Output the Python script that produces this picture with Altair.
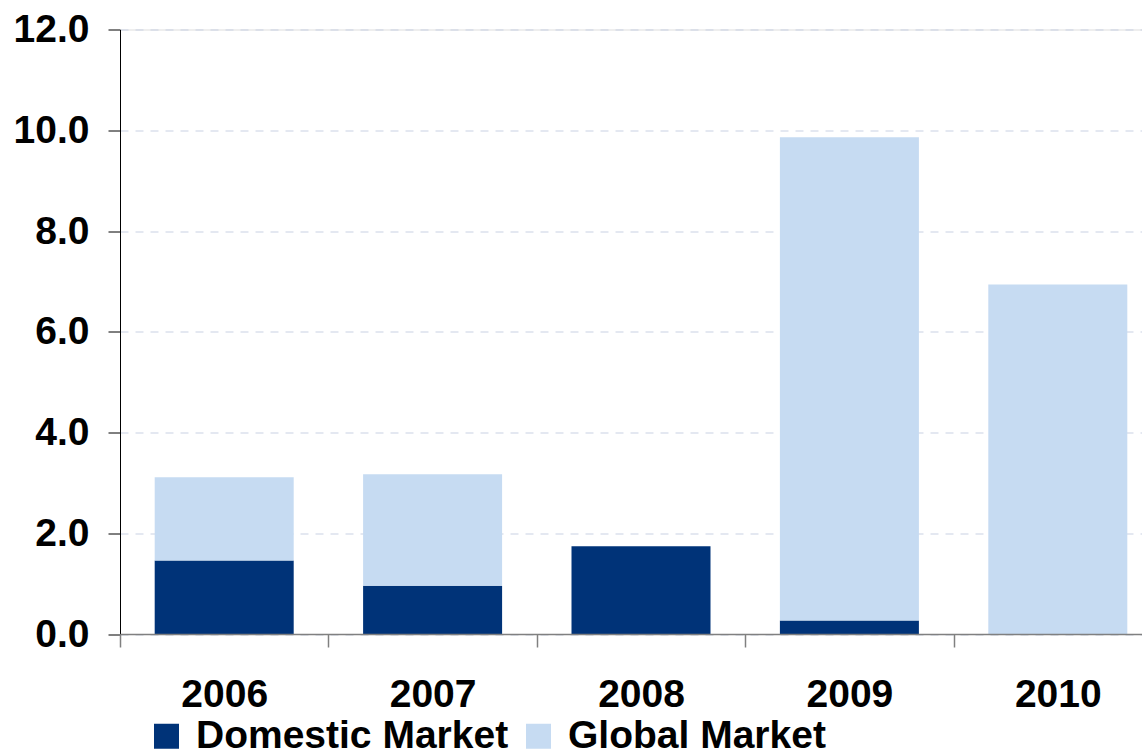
import altair as alt
import pandas as pd

# Annual values by market (stacked: domestic at the bottom, global on top)
years = ["2006", "2007", "2008", "2009", "2010"]
domestic = [1.46, 0.96, 1.74, 0.27, 0.0]
global_market = [1.65, 2.21, 0.0, 9.59, 6.94]
series = ["Domestic Market", "Global Market"]
colors = ["#003378", "#C6DBF2"]
y_ticks = [0, 2, 4, 6, 8, 10, 12]

rows = []
for i, yr in enumerate(years):
    rows.append({"year": yr, "market": series[0], "value": domestic[i], "rank": 0})
    rows.append({"year": yr, "market": series[1], "value": global_market[i], "rank": 1})
df = pd.DataFrame(rows)

FONT = "Liberation Sans"
X_RANGE = 1042
STEP = X_RANGE / len(years)

chart = (
    alt.Chart(df)
    .mark_bar()
    .encode(
        x=alt.X(
            "year:N",
            sort=years,
            scale=alt.Scale(range=[0, X_RANGE], paddingInner=0.333, paddingOuter=0.1665),
            axis=alt.Axis(
                title=None,
                labelAngle=0,
                grid=False,
                # ticks sit on the boundaries between categories
                tickOffset=-STEP / 2,
                labelOffset=STEP / 2,
                domainColor="#808080",
                domainWidth=1.5,
                tickColor="#808080",
                tickWidth=1.5,
                tickSize=13,
                labelPadding=28,
                labelFont=FONT,
                labelFontSize=39,
                labelFontWeight="bold",
                labelColor="#000000",
                zindex=1,
            ),
        ),
        y=alt.Y(
            "value:Q",
            stack="zero",
            scale=alt.Scale(domain=[0, 12], nice=False),
            axis=alt.Axis(
                title=None,
                values=y_ticks,
                format=".1f",
                domainColor="#000000",
                domainWidth=1,
                tickColor="#000000",
                tickWidth=1,
                tickSize=12,
                labelPadding=19,
                labelFont=FONT,
                labelFontSize=39,
                labelFontWeight="bold",
                labelColor="#000000",
                grid=True,
                gridColor="#C9D1E3",
                gridDash=[8, 7],
                gridWidth=1,
            ),
        ),
        color=alt.Color(
            "market:N",
            scale=alt.Scale(domain=series, range=colors),
            legend=alt.Legend(
                title=None,
                orient="none",
                legendX=27,
                legendY=687,
                direction="horizontal",
                symbolType="square",
                symbolSize=625,
                symbolStrokeWidth=0,
                labelFont=FONT,
                labelFontSize=39,
                labelFontWeight="bold",
                labelColor="#000000",
                labelOffset=10,
                labelLimit=1000,
                columnPadding=10,
                padding=0,
            ),
        ),
        order=alt.Order("rank:Q"),
    )
    .properties(
        width=1022,
        height=604.5,
        autosize=alt.AutoSizeParams(type="none"),
        padding={"left": 120, "top": 29.5, "right": 0, "bottom": 119},
    )
    .configure_view(stroke=None)
    .configure(background="#FFFFFF")
)

chart.save("out.html", embed_options={"renderer": "svg", "actions": False})
